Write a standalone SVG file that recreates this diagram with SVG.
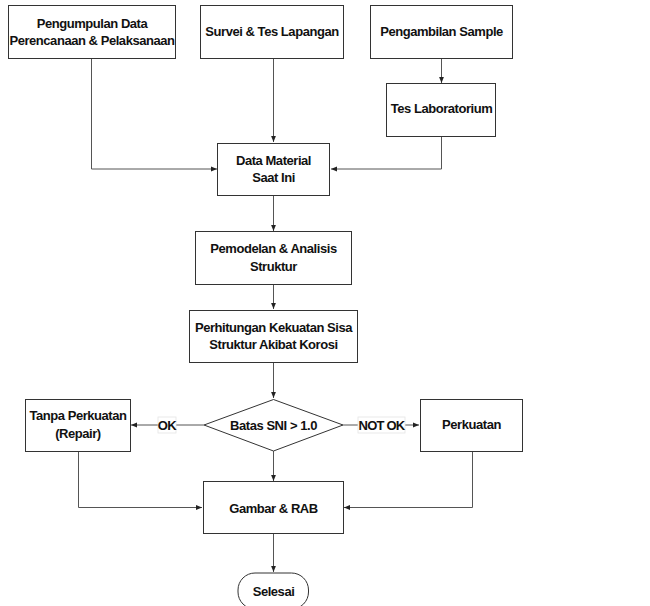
<svg xmlns="http://www.w3.org/2000/svg" width="650" height="606" viewBox="0 0 650 606">
<defs>
<style>
.box{fill:#fff;stroke:#333;stroke-width:1}
.t{font-family:"Liberation Sans",Arial,sans-serif;font-weight:bold;font-size:13px;letter-spacing:-0.45px;fill:#111;text-anchor:middle;dominant-baseline:central}
.c{fill:none;stroke:#555;stroke-width:1}
.lbl{fill:#fff;stroke:#e4e4e4;stroke-width:0.8}
</style>
<marker id="ah" viewBox="0 0 10 10" refX="10" refY="5" markerWidth="6" markerHeight="6" orient="auto" markerUnits="userSpaceOnUse">
<path d="M0,1 L10,5 L0,9 Z" fill="#222"/>
</marker>
</defs>
<rect width="650" height="606" fill="#fff"/>
<g id="connectors">
<path class="c" d="M91.5,59 V169 H217" marker-end="url(#ah)"/>
<path class="c" d="M273.5,59 V142" marker-end="url(#ah)"/>
<path class="c" d="M441.5,59 V83" marker-end="url(#ah)"/>
<path class="c" d="M441.5,136 V169 H331" marker-end="url(#ah)"/>
<path class="c" d="M273.5,195 V231" marker-end="url(#ah)"/>
<path class="c" d="M273.5,284 V309" marker-end="url(#ah)"/>
<path class="c" d="M273.5,363 V398" marker-end="url(#ah)"/>
<path class="c" d="M204,425 H131" marker-end="url(#ah)"/>
<path class="c" d="M343,425 H419" marker-end="url(#ah)"/>
<path class="c" d="M273.5,451 V481" marker-end="url(#ah)"/>
<path class="c" d="M78.5,451 V507.5 H202" marker-end="url(#ah)"/>
<path class="c" d="M472.5,451 V507.5 H344" marker-end="url(#ah)"/>
<path class="c" d="M273.5,534 V572" marker-end="url(#ah)"/>
<rect class="lbl" x="158" y="417" width="18" height="16"/>
<text class="t" x="167" y="425">OK</text>
<rect class="lbl" x="358" y="417" width="47" height="16"/>
<text class="t" x="381.5" y="425" style="letter-spacing:-0.8px">NOT OK</text>
</g>
<g id="n1"><rect class="box" x="8.5" y="5.5" width="167" height="53"/><text class="t" x="92" y="23">Pengumpulan Data</text><text class="t" x="92" y="40">Perencanaan &amp; Pelaksanaan</text></g>
<g id="n2"><rect class="box" x="200.5" y="5.5" width="143" height="53"/><text class="t" x="272" y="31">Survei &amp; Tes Lapangan</text></g>
<g id="n3"><rect class="box" x="370.5" y="5.5" width="142" height="53"/><text class="t" x="441.5" y="31">Pengambilan Sample</text></g>
<g id="n4"><rect class="box" x="386.5" y="83.5" width="109" height="53"/><text class="t" x="441.5" y="108.5">Tes Laboratorium</text></g>
<g id="n5"><rect class="box" x="217.5" y="143.5" width="112" height="52"/><text class="t" x="273.5" y="160">Data Material</text><text class="t" x="273.5" y="177.5">Saat Ini</text></g>
<g id="n6"><rect class="box" x="195.5" y="231.5" width="156" height="53"/><text class="t" x="273.5" y="248.5">Pemodelan &amp; Analisis</text><text class="t" x="273.5" y="266">Struktur</text></g>
<g id="n7"><rect class="box" x="189.5" y="310.5" width="168" height="52"/><text class="t" x="273.5" y="327">Perhitungan Kekuatan Sisa</text><text class="t" x="273.5" y="344.5">Struktur Akibat Korosi</text></g>
<g id="n8"><path class="box" d="M204,425 L273.5,399.5 L343,425 L273.5,451 Z"/><text class="t" x="273.5" y="425">Batas SNI &gt; 1.0</text></g>
<g id="n9"><rect class="box" x="25.5" y="399.5" width="105" height="52"/><text class="t" x="78" y="415.5">Tanpa Perkuatan</text><text class="t" x="78" y="433.5">(Repair)</text></g>
<g id="n10"><rect class="box" x="420.5" y="399.5" width="102" height="52"/><text class="t" x="471.5" y="424.5">Perkuatan</text></g>
<g id="n11"><rect class="box" x="203.5" y="481.5" width="140" height="52"/><text class="t" x="273.5" y="508">Gambar &amp; RAB</text></g>
<g id="n12"><rect class="box" x="238" y="573" width="70.5" height="36" rx="17" ry="17"/><text class="t" x="273.5" y="591">Selesai</text></g>
</svg>
